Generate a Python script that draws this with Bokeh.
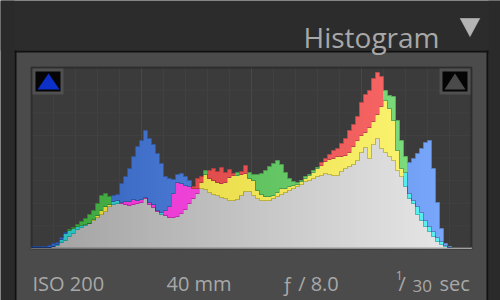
from bokeh.plotting import figure
from bokeh.models import ColumnDataSource, Range1d, BoxAnnotation, Label, PolyAnnotation
from bokeh.embed import file_html
from bokeh.resources import INLINE

# Per-channel histogram counts (relative units), 110 tonal bins from black to white
red = [1, 1, 1, 1, 1, 2, 3, 6, 8, 12, 15, 19, 21, 23, 25, 29, 33, 38, 42, 44,
       44, 45, 46, 47, 47, 49, 48, 49, 51, 46, 44, 38, 34, 38, 42, 55, 66, 65, 63, 62,
       62, 70, 72, 74, 78, 80, 77, 81, 76, 79, 75, 73, 77, 83, 70, 68, 58, 54, 52, 52,
       53, 56, 60, 60, 62, 63, 64, 67, 70, 73, 76, 80, 86, 90, 94, 98, 100, 105, 110, 118,
       124, 132, 146, 154, 158, 170, 176, 172, 148, 140, 128, 98, 80, 62, 50, 45, 34, 28, 22, 17,
       12, 7, 4, 2, 1, 1, 1, 1, 1, 1]
green = [1, 1, 1, 1, 1, 2, 4, 9, 15, 19, 21, 24, 27, 30, 34, 38, 45, 53, 55, 52,
         47, 48, 45, 44, 43, 44, 45, 46, 50, 44, 41, 37, 36, 33, 31, 31, 32, 35, 39, 45,
         50, 55, 66, 78, 70, 68, 66, 65, 66, 71, 73, 76, 74, 75, 76, 74, 74, 75, 78, 82,
         85, 88, 84, 76, 70, 67, 66, 68, 72, 74, 78, 81, 83, 87, 89, 90, 92, 92, 93, 96,
         102, 108, 113, 116, 121, 127, 134, 142, 158, 153, 152, 128, 108, 92, 55, 48, 42, 36, 28, 22,
         17, 11, 7, 3, 1, 1, 1, 1, 1, 1]
blue = [2, 2, 2, 2, 3, 5, 6, 11, 16, 18, 20, 22, 23, 24, 25, 28, 31, 34, 37, 42,
        53, 54, 65, 72, 80, 92, 102, 108, 118, 110, 104, 95, 85, 72, 70, 69, 74, 75, 72, 68,
        60, 60, 60, 59, 56, 54, 53, 51, 50, 48, 48, 49, 53, 57, 57, 53, 50, 48, 48, 48,
        50, 52, 54, 56, 58, 60, 62, 64, 67, 68, 70, 72, 73, 75, 74, 73, 73, 77, 80, 82,
        84, 88, 96, 101, 90, 104, 110, 100, 96, 92, 88, 78, 72, 76, 86, 90, 95, 100, 106, 108,
        80, 46, 20, 5, 2, 1, 1, 1, 1, 1]

exif_labels = ["ISO 200", "40 mm", "\u0192 / 8.0"]
shutter = ["1", "/", "30", "sec"]
title = "Histogram"

N = len(red)
YMAX = 181

# colour ramps (dark end, light end) for each overlap combination
ramps = {
    "RGB": ((160, 160, 160), (234, 234, 234)),
    "R": ((205, 55, 55), (255, 110, 110)),
    "G": ((55, 160, 55), (135, 228, 135)),
    "B": ((45, 92, 185), (125, 172, 255)),
    "RG": ((222, 205, 50), (255, 248, 120)),
    "RB": ((228, 40, 200), (255, 110, 240)),
    "GB": ((40, 185, 185), (95, 245, 245)),
}


def shade(key, t):
    a, b = ramps[key]
    return "#%02x%02x%02x" % tuple(int(round(x + (y - x) * t)) for x, y in zip(a, b))


L, Rt, Bo, To, C = [], [], [], [], []
env_lo, env_mid, env_hi = [], [], []
for i in range(N):
    t = (i + 0.5) / N
    lo, mid, hi = sorted([(red[i], "R"), (green[i], "G"), (blue[i], "B")])
    env_lo.append(lo[0])
    env_mid.append(mid[0])
    env_hi.append(hi[0])
    two = "".join(sorted([mid[1], hi[1]], key="RGB".index))
    for b0, b1, k in [(0, lo[0], "RGB"), (lo[0], mid[0], two), (mid[0], hi[0], hi[1])]:
        if b1 > b0:
            L.append(i)
            Rt.append(i + 1)
            Bo.append(b0)
            To.append(b1)
            C.append(shade(k, t))

src = ColumnDataSource(dict(left=L, right=Rt, bottom=Bo, top=To, color=C))

# Canvas layout: histogram box spans x 31..471, y 67..248 (4 px per bin, 1 px per unit)
W, H = 500, 300
PX = 4.0
x0_px, base_px = 31, 248
x_range = Range1d(-x0_px / PX, (W - x0_px) / PX)
y_range = Range1d(-(H - base_px), base_px)

p = figure(width=W, height=H, x_range=x_range, y_range=y_range,
           output_backend="svg", toolbar_location=None,
           x_axis_location=None, y_axis_location=None,
           min_border_left=0, min_border_right=0, min_border_top=0, min_border_bottom=0)
p.grid.visible = False
p.border_fill_color = "#4b4b4b"
p.background_fill_color = "#4b4b4b"
p.outline_line_color = None


def box(l, r, t, b, color, level="underlay", line=None, lw=1):
    p.add_layout(BoxAnnotation(left=l, right=r, top=H - t, bottom=H - b,
                               left_units="screen", right_units="screen",
                               top_units="screen", bottom_units="screen",
                               fill_color=color, fill_alpha=1 if color else 0,
                               line_color=line, line_width=lw, level=level))


def tri(xs, ys, color, level="overlay", line=None):
    p.add_layout(PolyAnnotation(xs=xs, ys=[H - y for y in ys], xs_units="screen", ys_units="screen",
                                fill_color=color, fill_alpha=1, line_color=line, line_width=1,
                                level=level))


# surrounding panel chrome
box(0, 500, 0, 50, "#2c2c2c")
box(0, 14, 0, 300, "#2a2a2a")
box(488, 500, 0, 300, "#2a2a2a")
box(14, 488, 50, 52, "#111111")
box(14, 16, 50, 300, "#111111")
box(486, 488, 50, 300, "#111111")
# histogram plot area
box(31, 471, 67, 248, "#3b3b3b")

# faint grid
gx_minor = [N * k / 20 for k in range(1, 20) if k % 5]
gx_major = [N * k / 4 for k in range(1, 4)]
gy = [YMAX * k / 8 for k in range(1, 8)]
p.segment(x0=gx_minor, x1=gx_minor, y0=[0] * len(gx_minor), y1=[YMAX] * len(gx_minor),
          line_color="#414141", line_width=1)
p.segment(x0=[0] * len(gy), x1=[N] * len(gy), y0=gy, y1=gy, line_color="#414141", line_width=1)
p.segment(x0=gx_major, x1=gx_major, y0=[0] * 3, y1=[YMAX] * 3, line_color="#484848", line_width=1)

p.quad(left="left", right="right", bottom="bottom", top="top", fill_color="color",
       line_color="color", line_width=1, source=src)

# subtle darker rim along the top of each overlap layer
xs_edge = list(range(N + 1))
for env in (env_lo, env_mid, env_hi):
    p.step(x=xs_edge, y=env + [env[-1]], mode="after", line_color="#000000",
           line_alpha=0.22, line_width=1)

# plot box border
box(31, 471, 67, 248, None, level="overlay", line="#000000", lw=2)

# clipping indicator boxes
box(32, 63, 68, 94, "#505050", level="overlay")
box(35, 60, 71, 91, "#050505", level="overlay")
box(439, 470, 68, 94, "#505050", level="overlay")
box(442, 467, 71, 91, "#050505", level="overlay")
tri([37, 59, 48], [89, 89, 73], "#0c30c8")
tri([444, 465, 454.5], [89, 89, 73], "#4a4a4a")
# collapse triangle
tri([459, 480, 469.5], [17.5, 17.5, 37], "#b4b4b4", line="#1a1a1a")

font = "Open Sans"
txt = "#a8a8a8"


def label(s, x, y, fs):
    p.add_layout(Label(x=x, y=H - y, x_units="screen", y_units="screen", text=s,
                       text_font=font, text_font_size=fs, text_color=txt,
                       text_baseline="alphabetic", text_align="left"))


label(title, 303, 36, "28px")
for s, x in zip(exif_labels, [32, 166, 281]):
    label(s, x, 283, "20px")
for s, x, y, fs in zip(shutter, [395, 398, 412, 439], [275, 283, 285, 283],
                       ["13px", "20px", "17px", "20px"]):
    label(s, x, y, fs)

open("out.html", "w").write(file_html(p, INLINE))
